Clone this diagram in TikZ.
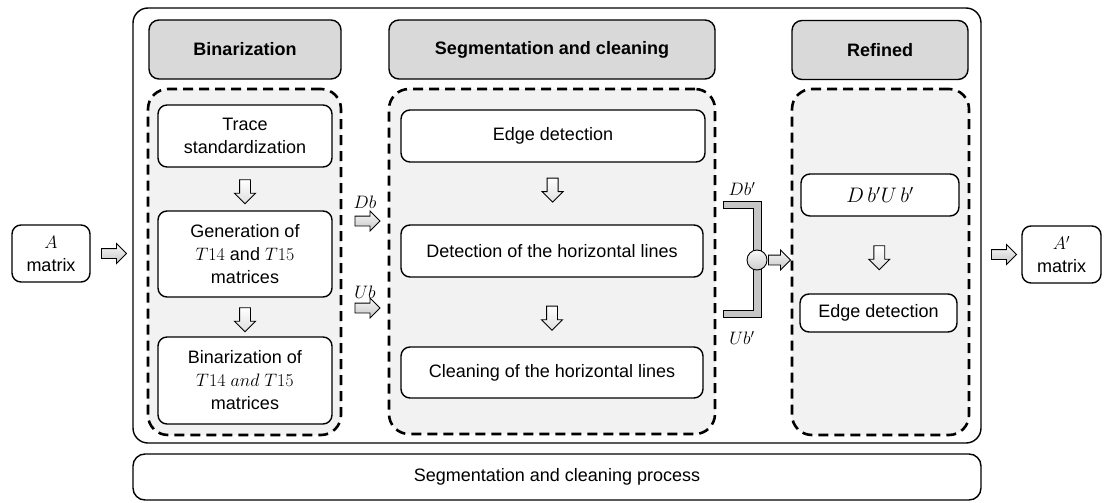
\RequirePackage{fix-cm}
\documentclass[tikz,border=0pt]{standalone}
\usepackage{fontspec}
\setmainfont{Liberation Sans}
\usepackage{tikz}
\usetikzlibrary{positioning, shapes.arrows, calc}
\definecolor{headGray}{HTML}{D9D9D9}
\definecolor{groupGray}{HTML}{F2F2F2}

\begin{document}
\begin{tikzpicture}[x=1pt, y=-1pt, every node/.style={font=\fontsize{18}{23}\selectfont},
    stepbox/.style={draw, line width=1.4pt, rounded corners=9pt, fill=white, align=center, inner sep=2pt},
    headbox/.style={draw, line width=1.4pt, rounded corners=10pt, fill=headGray, font=\fontsize{18}{23}\selectfont\bfseries},
    groupbox/.style={draw, line width=2.6pt, dash pattern=on 10pt off 6pt, rounded corners=20pt, fill=groupGray},
    fatarrow/.style={single arrow, draw, line width=0.9pt, top color=gray!5, bottom color=gray!45, inner sep=4.5pt, single arrow head extend=5pt, single arrow head indent=0pt, minimum height=25pt},
    downarrow/.style={fatarrow, shape border rotate=270, top color=white, bottom color=gray!25, inner sep=5pt, minimum height=24pt}]
    \useasboundingbox (0,0) rectangle (1105,503);
    % outer frames
    \node[draw, line width=1.4pt, rounded corners=15pt, minimum width=848pt, minimum height=435pt] (frame) at (557,225.5) {};
    \node[draw, line width=1.4pt, rounded corners=12pt, minimum width=848pt, minimum height=46pt] (process) at (557,477) {Segmentation and cleaning process};
    % input and output
    \node[stepbox, minimum width=78pt, minimum height=57pt] (ain) at (51,253.5) {$A$\\matrix};
    \node[stepbox, minimum width=79pt, minimum height=57pt] (aout) at (1061.5,254.5) {$A'$\\matrix};
    % headers
    \node[headbox, minimum width=192pt, minimum height=59pt] (binhead) at (245,49.5) {Binarization};
    \node[headbox, minimum width=326pt, minimum height=59pt] (seghead) at (552,49.5) {Segmentation and cleaning};
    \node[headbox, minimum width=176pt, minimum height=59pt] (refhead) at (880,50) {Refined};
    % groups
    \node[groupbox, minimum width=193pt, minimum height=346pt] (bingrp) at (244.5,262) {};
    \node[groupbox, minimum width=326pt, minimum height=345pt] (seggrp) at (552,261.5) {};
    \node[groupbox, minimum width=177pt, minimum height=346pt] (refgrp) at (880.5,262) {};
    % binarization steps
    \node[stepbox, minimum width=174pt, minimum height=62pt] (trace) at (245,136) {Trace\\standardization};
    \node[stepbox, minimum width=174pt, minimum height=86pt] (gen) at (245,254) {Generation of\\$T14$ and $T15$\\matrices};
    \node[stepbox, minimum width=174pt, minimum height=87pt] (binof) at (245,380.5) {Binarization of\\$T14\ and\ T15$\\matrices};
    % segmentation steps
    \node[stepbox, minimum width=304pt, minimum height=52pt] (edge) at (553,136) {Edge detection};
    \node[stepbox, minimum width=302pt, minimum height=52pt] (detect) at (552,251) {Detection of the horizontal lines};
    \node[stepbox, minimum width=302pt, minimum height=51pt] (clean) at (552,372.5) {Cleaning of the horizontal lines};
    % refined steps
    \node[stepbox, minimum width=158pt, minimum height=42pt, font=\fontsize{21}{23}\selectfont] (dbub) at (880,195) {$D\,b'U\,b'$};
    \node[stepbox, minimum width=157pt, minimum height=38pt] (edgetwo) at (878.5,313) {Edge detection};
    % arrows
    \coordinate (inmid) at ($(ain.east)!0.5!(frame.west)$);
    \coordinate (outmid) at ($(frame.east)!0.5!(aout.west)$);
    \node[fatarrow] (arrin) at (inmid |- ain) {};
    \node[fatarrow] (arrout) at (outmid |- aout) {};
    \node[downarrow] at ($(trace.south)!0.5!(gen.north)$) {};
    \node[downarrow] at ($(gen.south)!0.5!(binof.north)$) {};
    \node[downarrow] at ($(edge.south)!0.4!(detect.north)$) {};
    \node[downarrow] at ($(detect.south)!0.55!(clean.north)$) {};
    \node[downarrow] at ($(dbub.south)!0.5!(edgetwo.north)$) {};
    \node[fatarrow] (dbarr) at (365,221) {};
    \node[fatarrow] (ubarr) at (365,308) {};
    \node[above=4pt of dbarr] {$Db$};
    \node[above=1pt of ubarr] {$Ub$};
    % joining bracket
    \draw[line width=0.9pt, fill=gray!45] (723,201) -- (761,201) -- (761,317) -- (723,317) -- (723,310)
      -- (753,310) -- (753,208) -- (723,208) -- cycle;
    \node[fatarrow, minimum height=22pt] (joinarr) at (777,260) {};
    \node[circle, draw, line width=0.9pt, top color=gray!5, bottom color=gray!40, minimum size=20pt, inner sep=0pt] (join) at (757,260) {};
    \node at (742,189) {$Db'$};
    \node at (742,338) {$Ub'$};
\end{tikzpicture}
\end{document}
